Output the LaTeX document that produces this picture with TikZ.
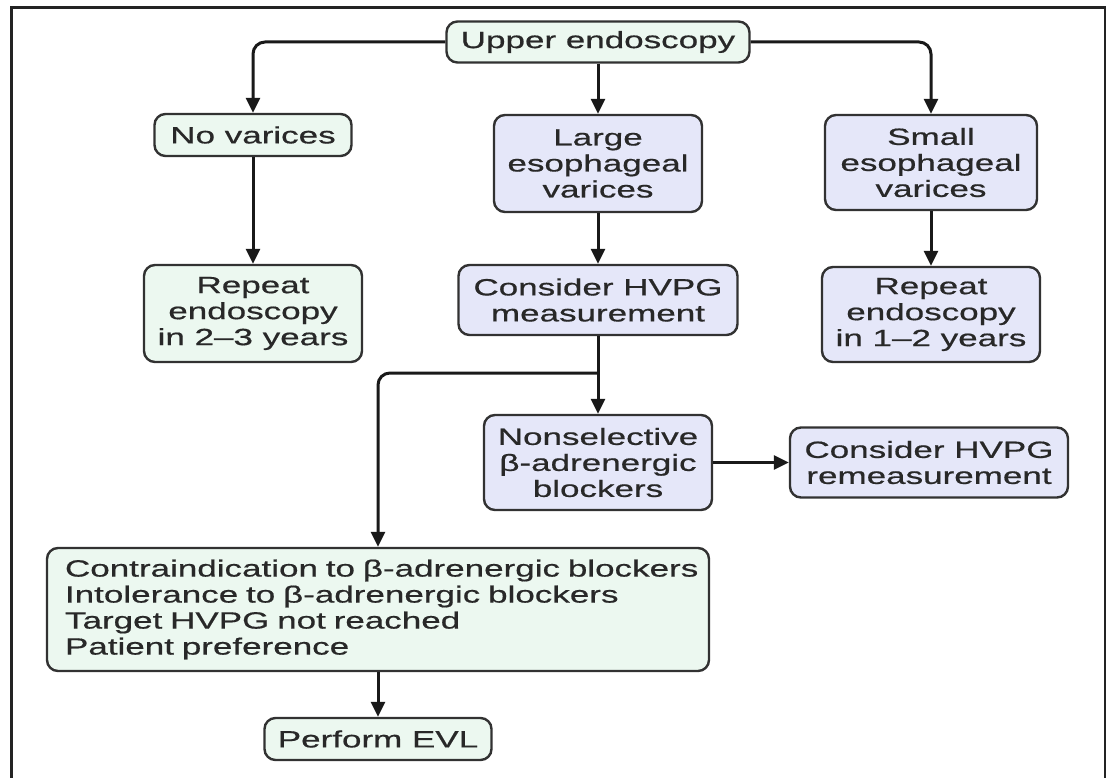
\documentclass[tikz,border=0pt]{standalone}
\usepackage{fontspec}
\setmainfont[FakeStretch=1.49,FakeBold=0.6]{Liberation Sans}
\usetikzlibrary{arrows.meta}
\definecolor{gfill}{RGB}{236,248,240}
\definecolor{bfill}{RGB}{229,231,249}
\definecolor{edge}{RGB}{50,50,50}
\definecolor{txt}{RGB}{40,40,40}
\definecolor{framec}{RGB}{35,35,35}
\tikzset{
  box/.style={draw=edge, line width=2.4pt, rounded corners=11pt, align=center,
    inner sep=0pt, font=\fontsize{23.5}{26}\selectfont, text=txt},
  gbox/.style={box, fill=gfill},
  bbox/.style={box, fill=bfill},
  conn/.style={line width=3pt, draw=black!90, -{Triangle[length=15pt,width=14pt]}, rounded corners=12pt}
}
\begin{document}
\begin{tikzpicture}[x=1pt,y=-1pt]
\useasboundingbox (0,0) rectangle (1106,778);
\fill[white] (0,0) rectangle (1106,778);
\draw[line width=3pt, framec] (11,800) -- (11,8) -- (1105,8) -- (1105,800);

\node[gbox, minimum width=303pt, minimum height=41pt] (up) at (598,42) {Upper endoscopy};
\node[gbox, minimum width=197pt, minimum height=42pt] (nov) at (253,135) {No varices};
\node[bbox, minimum width=208pt, minimum height=97pt] (large) at (598,163.5) {Large\\esophageal\\varices};
\node[bbox, minimum width=212pt, minimum height=95pt] (small) at (931,162.5) {Small\\esophageal\\varices};
\node[gbox, minimum width=218pt, minimum height=97pt] (rep2) at (253,313.5) {Repeat\\endoscopy\\in 2\textendash 3 years};
\node[bbox, minimum width=279pt, minimum height=70pt] (hvpg) at (598,300) {Consider HVPG\\measurement};
\node[bbox, minimum width=218pt, minimum height=95pt] (rep1) at (931,314.5) {Repeat\\endoscopy\\in 1\textendash 2 years};
\node[bbox, minimum width=228pt, minimum height=95pt] (nsb) at (598,462.5) {Nonselective\\β-adrenergic\\blockers};
\node[bbox, minimum width=278pt, minimum height=70pt] (rem) at (929,462.5) {Consider HVPG\\remeasurement};
\node[gbox, text width=626pt, inner xsep=18pt, align=left, minimum height=123pt] (contra) at (378,609.5)
  {\mbox{Contraindication to β-adrenergic blockers}\\\mbox{Intolerance to β-adrenergic blockers}\\\mbox{Target HVPG not reached}\\\mbox{Patient preference}};
\node[gbox, minimum width=227pt, minimum height=42pt] (evl) at (378,739) {Perform EVL};

\coordinate (br) at (598,373);

\draw[conn] (up.west) -| (nov.north);
\draw[conn] (up.east) -| (small.north);
\draw[conn] (up.south) -- (large.north);
\draw[conn] (nov.south) -- (rep2.north);
\draw[conn] (large.south) -- (hvpg.north);
\draw[conn] (small.south) -- (rep1.north);
\draw[conn] (hvpg.south) -- (nsb.north);
\draw[conn] (br) -| (contra.north);
\draw[conn] (nsb.east) -- (rem.west);
\draw[conn] (contra.south) -- (evl.north);
\end{tikzpicture}
\end{document}
